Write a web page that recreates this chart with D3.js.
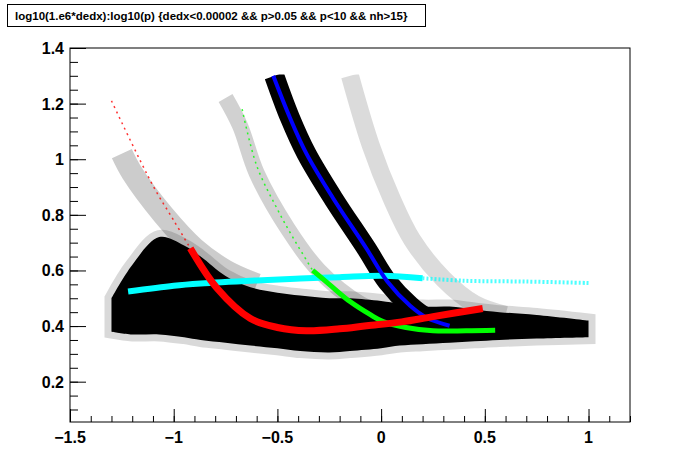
<!DOCTYPE html>
<html><head><meta charset="utf-8">
<script src="https://cdn.jsdelivr.net/npm/d3@7"></script>
<style>body{margin:0;background:#fff}</style>
</head><body>
<script>
// values: [log10(p), log10(1e6*dedx)]
var redCurve = [[-0.92,0.68],[-0.79,0.535],[-0.63,0.427],[-0.5,0.395],[-0.36,0.383],[-0.2,0.39],[-0.07,0.401],[0.1,0.415],[0.25,0.434],[0.49,0.463]];
var redThin = [[-1.3,1.21],[-1.1,0.905],[-1.0,0.78],[-0.92,0.68]];
var cyanCurve = [[-1.22,0.524],[-1.0,0.545],[-0.87,0.553],[-0.6,0.564],[-0.39,0.571],[-0.2,0.576],[0.01,0.581],[0.2,0.572]];
var cyanThin = [[0.2,0.572],[0.4,0.563],[0.7,0.56],[1.0,0.555]];
var greenCurve = [[-0.33,0.6],[-0.25,0.55],[-0.15,0.488],[-0.05,0.44],[0.01,0.416],[0.12,0.395],[0.25,0.383],[0.41,0.383],[0.55,0.385]];
var greenThin = [[-0.67,1.18],[-0.6,0.977],[-0.5,0.82],[-0.43,0.725],[-0.33,0.6]];
var blueCurve = [[-0.52,1.3],[-0.44,1.15],[-0.36,1.02],[-0.23,0.858],[-0.07,0.678],[0.03,0.56],[0.14,0.473],[0.22,0.43],[0.33,0.401]];
// dense black band around the main (low mass) particles
var pionBandX = [-1.3,-1.2,-1.07,-0.95,-0.87,-0.75,-0.63,-0.5,-0.39,-0.25,-0.15,0.0,0.09,0.2,0.33,0.45,0.57,0.75,1.0];
var pionBandTop = [0.5,0.62,0.72,0.69,0.65,0.58,0.54,0.52,0.51,0.5,0.5,0.49,0.48,0.47,0.47,0.46,0.45,0.44,0.42];
var pionBandLow = [0.38,0.37,0.37,0.36,0.35,0.34,0.33,0.32,0.31,0.305,0.31,0.32,0.33,0.335,0.34,0.345,0.35,0.355,0.36];
var kaonBand = [[-1.25,1.02],[-1.2,0.95],[-1.05,0.8],[-0.9,0.68],[-0.75,0.6],[-0.6,0.55]];
var protonBand = [[-0.75,1.22],[-0.68,1.12],[-0.6,0.95],[-0.45,0.75],[-0.3,0.6],[-0.1,0.48],[0.1,0.42],[0.3,0.4]];
var deuteronBand = [[-0.515,1.3],[-0.44,1.15],[-0.36,1.02],[-0.23,0.858],[-0.07,0.678],[0.03,0.56],[0.14,0.473],[0.22,0.43],[0.33,0.405]];
var tritonBand = [[-0.15,1.3],[-0.05,1.05],[0.05,0.86],[0.15,0.71],[0.3,0.57],[0.45,0.48],[0.6,0.44]];
var xTicks = [-1.5,-1,-0.5,0,0.5,1];
var yTicks = [0.2,0.4,0.6,0.8,1,1.2,1.4];
var title = "log10(1.e6*dedx):log10(p) {dedx<0.00002 && p>0.05 && p<10 && nh>15}";

var W = 696, H = 472;
var L = 70, R = 630, T = 48, B = 422;
var x = d3.scaleLinear().domain([-1.5,1.2]).range([L,R]);
var y = d3.scaleLinear().domain([0.055,1.4]).range([B,T]);

var svg = d3.select("body").append("svg").attr("width",W).attr("height",H)
  .style("font-family","'Liberation Sans',Arial,sans-serif");

svg.append("clipPath").attr("id","c").append("rect")
  .attr("x",L).attr("y",y(1.305)).attr("width",R-L).attr("height",B-y(1.305));
var g = svg.append("g").attr("clip-path","url(#c)");

var line = d3.line().x(function(d){return x(d[0]);}).y(function(d){return y(d[1]);}).curve(d3.curveCatmullRom);

// bands
var bandRows = pionBandX.map(function(v,i){ return {x:v, t:pionBandTop[i], l:pionBandLow[i]}; });
g.append("path").datum(bandRows)
  .attr("d", d3.area().x(function(d){return x(d.x);}).y0(function(d){return y(d.l);}).y1(function(d){return y(d.t);}).curve(d3.curveCatmullRom))
  .attr("fill","#000").attr("stroke","#000").attr("stroke-opacity",0.15).attr("stroke-width",14);
g.append("path").datum(kaonBand).attr("d",line).attr("fill","none").attr("stroke","#000").attr("stroke-opacity",0.2).attr("stroke-width",22);
g.append("path").datum(protonBand).attr("d",line).attr("fill","none").attr("stroke","#000").attr("stroke-opacity",0.18).attr("stroke-width",16);
g.append("path").datum(tritonBand).attr("d",line).attr("fill","none").attr("stroke","#000").attr("stroke-opacity",0.14).attr("stroke-width",18);
g.append("path").datum(deuteronBand).attr("d",line).attr("fill","none").attr("stroke","#000").attr("stroke-width",20);

// model curves
function curve(data, col, w, op, dash){
  g.append("path").datum(data).attr("d",line).attr("fill","none")
    .attr("stroke",col).attr("stroke-width",w).attr("stroke-opacity",op||1)
    .attr("stroke-dasharray",dash||null);
}
curve(redThin,"#ff0000",1.5,0.8,"2,4");
curve(greenThin,"#00ff00",1.5,0.8,"2,4");
curve(cyanThin,"#00ffff",4,0.7,"2,2");
curve(cyanCurve,"#00ffff",6);
curve(blueCurve,"#0000ff",4);
curve(greenCurve,"#00ff00",5);
curve(redCurve,"#ff0000",7);

// frame
svg.append("rect").attr("x",L).attr("y",T).attr("width",R-L).attr("height",B-T)
  .attr("fill","none").attr("stroke","#000");

// axes (ticks inward, ROOT style)
svg.append("g").attr("transform","translate(0,"+B+")")
  .call(d3.axisTop(x).tickValues(d3.range(-1.5,1.2001,0.1)).tickSize(6).tickFormat(""));
svg.append("g").attr("transform","translate(0,"+B+")")
  .call(d3.axisTop(x).tickValues(xTicks).tickSize(13).tickFormat(""));
svg.append("g").attr("transform","translate("+L+",0)")
  .call(d3.axisRight(y).tickValues(d3.range(0.1,1.4001,0.05)).tickSize(8).tickFormat(""));
svg.append("g").attr("transform","translate("+L+",0)")
  .call(d3.axisRight(y).tickValues(yTicks).tickSize(16).tickFormat(""));
svg.selectAll(".domain").remove();

svg.selectAll(".xl").data(xTicks).enter().append("text")
  .attr("x",function(d){return x(d);}).attr("y",B+21).attr("text-anchor","middle")
  .attr("font-size",16).attr("font-weight","bold")
  .text(function(d){return d3.format("")(d).replace("-","\u2212");});
svg.selectAll(".yl").data(yTicks).enter().append("text")
  .attr("x",L-6).attr("y",function(d){return y(d)+6;}).attr("text-anchor","end")
  .attr("font-size",16).attr("font-weight","bold")
  .text(function(d){return d3.format("")(d);});

// title box
svg.append("rect").attr("x",7.5).attr("y",4.5).attr("width",418).attr("height",22)
  .attr("fill","#fff").attr("stroke","#000");
svg.append("text").attr("x",15).attr("y",20).attr("font-size",11.5).attr("font-weight","bold").text(title);
</script>
</body></html>
